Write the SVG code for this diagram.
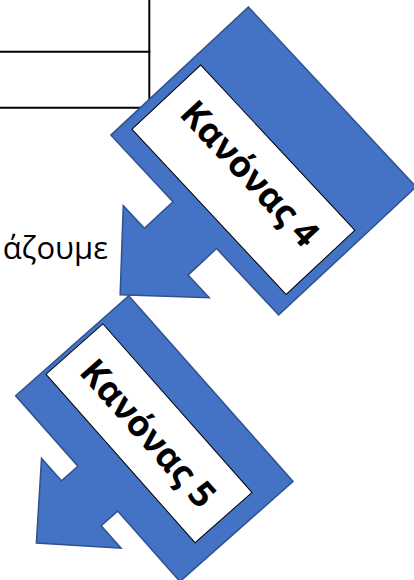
<svg xmlns="http://www.w3.org/2000/svg" width="414" height="580" viewBox="0 0 414 580">
<style>
.tbl{stroke:#000;stroke-width:2;fill:none}
.arrow{fill:#4472C4;stroke:#2F528F;stroke-width:1.5;stroke-linejoin:miter}
.box{fill:#fff;stroke:#000;stroke-width:1}
.lbl{font-family:"Open Sans","Noto Sans","DejaVu Sans",sans-serif;font-weight:bold;font-size:36px;fill:#000;text-anchor:middle}
.body{font-family:"Open Sans","Noto Sans","DejaVu Sans",sans-serif;font-size:31px;fill:#000}
</style>
<rect width="414" height="580" fill="#fff"/>
<g id="table">
<line class="tbl" x1="149.3" y1="0" x2="149.3" y2="108"/>
<line class="tbl" x1="0" y1="51.7" x2="150.3" y2="51.7"/>
<line class="tbl" x1="0" y1="107.7" x2="150.3" y2="107.7"/>
</g>
<g id="bodytext">
<text class="body" x="108" y="259" text-anchor="end">άζουμε</text>
</g>
<g id="rule4" transform="translate(263.5,161) rotate(47)">
<polygon class="arrow" points="-123,-94 123,-94 123,94 32,94 32,133 63,133 0,196 -63,133 -32,133 -32,94 -123,94"/>
<rect class="box" x="-113" y="-19.5" width="226" height="94"/>
<text class="lbl" x="0" y="31">Κανόνας 4</text>
</g>
<g id="rule5" transform="translate(154.7,438.3) rotate(48.5)">
<polygon class="arrow" points="-124,-75 124,-75 124,76 30,76 30,98 60,98 0,158 -60,98 -30,98 -30,76 -124,76"/>
<rect class="box" x="-120" y="-37" width="225" height="76"/>
<text class="lbl" x="-8" y="14">Κανόνας 5</text>
</g>
<g id="connectors"></g>
</svg>
